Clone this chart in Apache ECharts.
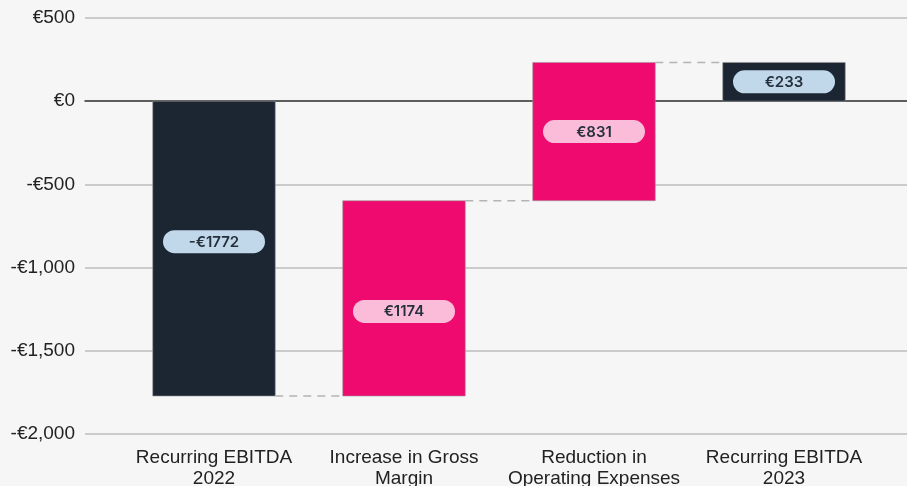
<!DOCTYPE html>
<html><head><meta charset="utf-8">
<script src="https://cdn.jsdelivr.net/npm/echarts@6/dist/echarts.min.js"></script>
<style>html,body{margin:0;padding:0;background:#f6f6f6}#c{width:907px;height:486px}</style>
</head><body><div id="c"></div>
<script>
const categories = ['Recurring EBITDA\n2022', 'Increase in Gross\nMargin', 'Reduction in\nOperating Expenses', 'Recurring EBITDA\n2023'];
const deltas = [-1772, 1174, 831, 233];
const kinds = ['total', 'delta', 'delta', 'total'];
const yTicks = [-2000, -1500, -1000, -500, 0, 500];
const labelNudge = [-7, 13, 0, 0];

// build waterfall ranges
const ranges = [];
let run = 0;
for (let i = 0; i < deltas.length; i++) {
  if (kinds[i] === 'total') {
    if (i === 0) { run = deltas[i]; }
    ranges.push([i, 0, run, deltas[i]]);
  } else {
    const s = run; run = run + deltas[i];
    ranges.push([i, s, run, deltas[i]]);
  }
}
function fmtAxis(v){ const a=Math.abs(v).toLocaleString('en-US'); return (v<0?'-':'')+'€'+a; }
function fmtLbl(v){ return (v<0?'-':'')+'€'+Math.abs(v); }

const chart = echarts.init(document.getElementById('c'));
const n = categories.length;
chart.setOption({
  backgroundColor: '#f6f6f6',
  animation: false,
  grid: [
    {left: 85, right: 0, top: 18, bottom: 52, outerBoundsMode: 'none', containLabel: false},
    {left: 119, right: 28, top: 18, bottom: 52, outerBoundsMode: 'none', containLabel: false}
  ],
  xAxis: [
    {gridIndex: 0, type: 'value', min: 0, max: 1, show: true, axisLabel:{show:false}, axisTick:{show:false}, splitLine:{show:false},
     axisLine:{show:true, onZero:true, lineStyle:{color:'#3a3a3a', width:1.5}}},
    {gridIndex: 1, type: 'category', data: categories, axisLine:{show:false}, axisTick:{show:false},
     axisLabel:{interval:0, color:'#222', fontSize:19, fontFamily:'Liberation Sans, Arial, sans-serif', lineHeight:21, margin:13}}
  ],
  yAxis: [
    {gridIndex: 0, type: 'value', min: yTicks[0], max: yTicks[yTicks.length-1], interval: 500,
     axisLine:{show:false}, axisTick:{show:false},
     axisLabel:{color:'#222', fontSize:19, fontFamily:'Liberation Sans, Arial, sans-serif', margin:10, formatter: fmtAxis},
     splitLine:{show:true, lineStyle:{color:'#bdbdbd', width:1.5}}},
    {gridIndex: 1, type: 'value', min: yTicks[0], max: yTicks[yTicks.length-1], interval: 500, show:false}
  ],
  series: [{
    type: 'custom',
    xAxisIndex: 1, yAxisIndex: 1,
    data: ranges,
    renderItem: function(params, api){
      const i = api.value(0), y0 = api.value(1), y1 = api.value(2), d = api.value(3);
      const p0 = api.coord([i, y0]), p1 = api.coord([i, y1]);
      const band = api.size([1, 0])[0];
      const w = band * 0.645;
      const top = Math.min(p0[1], p1[1]), h = Math.abs(p0[1]-p1[1]);
      const isTotal = kinds[i] === 'total';
      const fill = isTotal ? '#1c2532' : '#ef0a6f';
      const pill = isTotal ? '#c1d8ea' : '#fbbcd9';
      const cy = top + h/2 + labelNudge[i];
      const children = [
        {type:'rect', shape:{x:p0[0]-w/2, y:top, width:w, height:h}, style:{fill:fill, stroke:'#9a9a9a', lineWidth:0.6}},
        {type:'rect', shape:{x:p0[0]-51, y:cy-11.5, width:102, height:23, r:11.5}, style:{fill:pill}},
        {type:'text', x:p0[0], y:cy+0.5, style:{text:fmtLbl(d), fill:'#26303d', font:'600 15px Inter, sans-serif', align:'center', verticalAlign:'middle'}}
      ];
      if (i < n-1) {
        children.push({type:'line', shape:{x1:p0[0]+w/2, y1:p1[1], x2:p0[0]+band-w/2, y2:p1[1]},
          style:{stroke:'#b4b4b4', lineWidth:1.5, lineDash:[8,6]}});
      }
      return {type:'group', children: children};
    }
  }]
});
</script></body></html>
